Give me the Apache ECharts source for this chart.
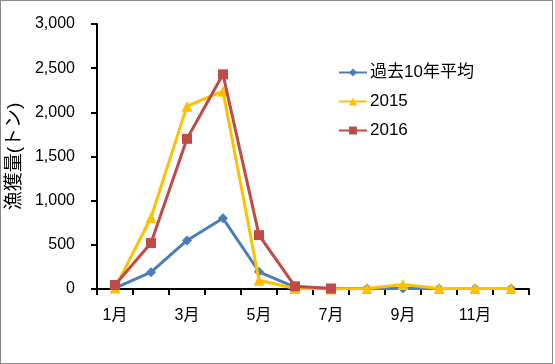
<!DOCTYPE html>
<html><head><meta charset="utf-8">
<script src="https://cdn.jsdelivr.net/npm/echarts@6/dist/echarts.min.js"></script>
<style>
html,body{margin:0;padding:0;background:#fff;}
#c{position:absolute;left:0;top:0;width:551px;height:362px;border:1px solid #8a8a8a;background:#fff;}
</style></head>
<body><div id="c"></div>
<script>
const categories = ['1月','2月','3月','4月','5月','6月','7月','8月','9月','10月','11月','12月'];
const avg10 = [10, 190, 550, 800, 195, 20, 5, 5, 5, 5, 5, 5];
const y2015 = [10, 810, 2070, 2240, 100, 5, 0, 5, 50, 5, 5, 5];
const y2016 = [45, 520, 1700, 2430, 610, 30, 5, null, null, null, null, null];
const seriesNames = ['過去10年平均', '2015', '2016'];

const font = "'Liberation Sans','Noto Sans CJK JP',sans-serif";
const chart = echarts.init(document.getElementById('c'));
chart.setOption({
  animation: false,
  textStyle: {fontFamily: font},
  grid: {left: 96, top: 23, right: 23, bottom: 74, containLabel: false, outerBoundsMode: 'none'},
  legend: {
    orient: 'vertical', left: 332, top: 58, itemGap: 12,
    itemWidth: 28, itemHeight: 10,
    textStyle: {fontSize: 17, color: '#000', fontFamily: font, padding: [0, 0, 0, -2]},
    data: seriesNames
  },
  xAxis: {
    type: 'category', data: categories, boundaryGap: true,
    axisLine: {lineStyle: {color: '#000', width: 2}},
    axisTick: {show: true, length: 6, lineStyle: {color: '#000', width: 2}, alignWithLabel: false, interval: 0},
    axisLabel: {interval: 1, color: '#000', fontSize: 16, margin: 19, fontFamily: font}
  },
  yAxis: {
    type: 'value', min: 0, max: 3000, interval: 500,
    name: '漁獲量(トン)', nameLocation: 'middle', nameGap: 72, nameRotate: 90,
    nameTextStyle: {fontSize: 19, color: '#000', fontFamily: font},
    splitLine: {show: false},
    axisLine: {show: true, lineStyle: {color: '#000', width: 2}},
    axisTick: {show: true, length: 6, lineStyle: {color: '#000', width: 2}},
    axisLabel: {color: '#000', fontSize: 16, margin: 22, fontFamily: font,
      formatter: v => v.toLocaleString('en-US')}
  },
  series: [
    {name: seriesNames[0], type: 'line', data: avg10, symbol: 'diamond', symbolSize: 10,
     lineStyle: {color: '#4a7ebb', width: 3}, itemStyle: {color: '#4a7ebb'}, z: 3},
    {name: seriesNames[1], type: 'line', data: y2015, symbol: 'triangle', symbolSize: 11,
     lineStyle: {color: '#ffc000', width: 3}, itemStyle: {color: '#ffc000'}, z: 4},
    {name: seriesNames[2], type: 'line', data: y2016, symbol: 'rect', symbolSize: 10,
     lineStyle: {color: '#be4b48', width: 3}, itemStyle: {color: '#be4b48'}, z: 5}
  ]
});
</script></body></html>
